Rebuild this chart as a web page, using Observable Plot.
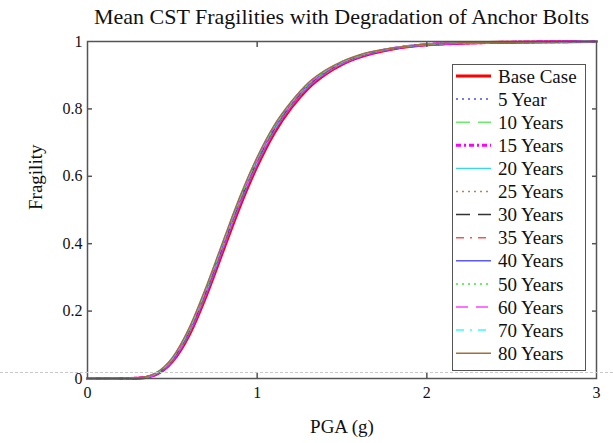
<!DOCTYPE html>
<html>
<head>
<meta charset="utf-8">
<script src="https://cdn.jsdelivr.net/npm/d3@7"></script>
<script src="https://cdn.jsdelivr.net/npm/@observablehq/plot@0.6"></script>
<style>
  html, body { margin: 0; padding: 0; background: #fff; }
  #fig { position: relative; width: 613px; height: 443px; font-family: "Liberation Serif", "Times New Roman", serif; }
  #title { height: 32px; line-height: 34px; font-size: 22px; text-align: center; padding-left: 70px; color: #111; white-space: nowrap; }
  #legend { position: absolute; left: 452px; top: 64px; width: 132px; height: 305px; border: 1.5px solid #555; background: #fff; }
  #artifact { position: absolute; left: 0; top: 372px; width: 613px; border-top: 1px dashed #c8c8c8; }
</style>
</head>
<body>
<div id="fig">
  <div id="title">Mean CST Fragilities with Degradation of Anchor Bolts</div>
  <div id="plot"></div>
  <div id="artifact"></div>
  <div id="legend"></div>
</div>
<script>
// PGA (g) sample points shared by all series
const pga = [0, 0.2, 0.3, 0.4, 0.5, 0.6, 0.7, 0.8, 0.9, 1.0, 1.1, 1.2, 1.3, 1.4, 1.5, 1.6, 1.8, 2.0, 2.2, 2.5, 3.0];

const seriesNames = ["Base Case", "5 Year", "10 Years", "15 Years", "20 Years", "25 Years", "30 Years", "35 Years", "40 Years", "50 Years", "60 Years", "70 Years", "80 Years"];

const baseCase = [0, 0, 0.001, 0.011, 0.050, 0.130, 0.246, 0.380, 0.513, 0.630, 0.728, 0.803, 0.861, 0.902, 0.932, 0.953, 0.978, 0.990, 0.995, 0.998, 1.0];
const year5    = [0, 0, 0.001, 0.012, 0.052, 0.134, 0.251, 0.386, 0.519, 0.635, 0.732, 0.806, 0.864, 0.904, 0.933, 0.954, 0.978, 0.990, 0.995, 0.998, 1.0];
const year10   = [0, 0, 0.001, 0.012, 0.053, 0.136, 0.254, 0.389, 0.522, 0.638, 0.735, 0.808, 0.866, 0.905, 0.934, 0.955, 0.979, 0.990, 0.995, 0.998, 1.0];
const year15   = [0, 0, 0.001, 0.012, 0.053, 0.137, 0.255, 0.390, 0.523, 0.639, 0.736, 0.809, 0.866, 0.906, 0.935, 0.955, 0.979, 0.991, 0.995, 0.998, 1.0];
const year20   = [0, 0, 0.001, 0.013, 0.055, 0.139, 0.258, 0.393, 0.526, 0.642, 0.738, 0.811, 0.868, 0.907, 0.936, 0.956, 0.979, 0.991, 0.995, 0.998, 1.0];
const year25   = [0, 0, 0.001, 0.013, 0.055, 0.140, 0.259, 0.394, 0.527, 0.643, 0.739, 0.812, 0.869, 0.908, 0.936, 0.956, 0.980, 0.991, 0.996, 0.998, 1.0];
const year30   = [0, 0, 0.001, 0.013, 0.056, 0.141, 0.261, 0.396, 0.529, 0.645, 0.741, 0.813, 0.870, 0.908, 0.937, 0.957, 0.980, 0.991, 0.996, 0.998, 1.0];
const year35   = [0, 0, 0.001, 0.014, 0.057, 0.143, 0.263, 0.398, 0.531, 0.647, 0.742, 0.814, 0.871, 0.909, 0.937, 0.957, 0.980, 0.991, 0.996, 0.998, 1.0];
const year40   = [0, 0, 0.001, 0.014, 0.058, 0.144, 0.265, 0.400, 0.533, 0.649, 0.744, 0.816, 0.872, 0.910, 0.938, 0.958, 0.980, 0.991, 0.996, 0.998, 1.0];
const year50   = [0, 0, 0.001, 0.014, 0.059, 0.146, 0.267, 0.402, 0.535, 0.651, 0.746, 0.817, 0.873, 0.911, 0.939, 0.958, 0.981, 0.991, 0.996, 0.998, 1.0];
const year60   = [0, 0, 0.002, 0.015, 0.060, 0.148, 0.269, 0.405, 0.538, 0.653, 0.748, 0.819, 0.875, 0.912, 0.940, 0.959, 0.981, 0.992, 0.996, 0.998, 1.0];
const year70   = [0, 0, 0.002, 0.015, 0.061, 0.149, 0.271, 0.407, 0.540, 0.655, 0.749, 0.820, 0.876, 0.913, 0.940, 0.959, 0.981, 0.992, 0.996, 0.998, 1.0];
const year80   = [0, 0, 0.002, 0.016, 0.062, 0.151, 0.273, 0.409, 0.542, 0.657, 0.751, 0.821, 0.877, 0.914, 0.941, 0.960, 0.981, 0.992, 0.996, 0.998, 1.0];

const seriesValues = [baseCase, year5, year10, year15, year20, year25, year30, year35, year40, year50, year60, year70, year80];

const xTicks = [0, 1, 2, 3];
const xTickLabels = ["0", "1", "2", "3"];
const yTicks = [0, 0.2, 0.4, 0.6, 0.8, 1];
const yTickLabels = ["0", "0.2", "0.4", "0.6", "0.8", "1"];

// line styles (presentation)
const styles = [
  {stroke: "#ff0000", width: 3,   dash: null},
  {stroke: "#4a4aff", width: 1.5, dash: "2,4"},
  {stroke: "#66ee66", width: 1.5, dash: "14,8"},
  {stroke: "#ff00ff", width: 3,   dash: "5,3,2,3"},
  {stroke: "#33dddd", width: 1.3, dash: null},
  {stroke: "#b08860", width: 1.5, dash: "2,4"},
  {stroke: "#333333", width: 1.5, dash: "14,8"},
  {stroke: "#ff5050", width: 1.5, dash: "8,6,2,6"},
  {stroke: "#5a5aff", width: 1.5, dash: null},
  {stroke: "#33ee33", width: 1.5, dash: "2,4"},
  {stroke: "#ff44ff", width: 1.5, dash: "12,8"},
  {stroke: "#33ffff", width: 1.5, dash: "8,6,2,6"},
  {stroke: "#a0703a", width: 1.5, dash: null}
];

const rows = [];
seriesNames.forEach((name, si) => {
  pga.forEach((x, i) => rows.push({series: name, si, pga: x, frag: seriesValues[si][i]}));
});

const lineMarks = seriesNames.map((name, si) =>
  Plot.line(rows.filter(d => d.si === si), {
    x: "pga", y: "frag", curve: "monotone-x",
    stroke: styles[si].stroke, strokeWidth: styles[si].width,
    strokeDasharray: styles[si].dash
  })
);

const axisColor = "#555";
const blank = () => "";
const chart = Plot.plot({
  width: 613,
  height: 411,
  marginLeft: 87,
  marginRight: 17,
  marginTop: 9,
  marginBottom: 65,
  style: {fontFamily: "Liberation Serif, Times New Roman, serif", fontSize: "16px", color: "#111", background: "#fff"},
  x: {domain: [0, 3], axis: null},
  y: {domain: [0, 1], axis: null},
  marks: [
    ...lineMarks,
    Plot.frame({stroke: axisColor, strokeWidth: 1.5}),
    Plot.axisX(xTicks, {anchor: "bottom", label: null, tickSize: 0, tickPadding: 8, fontSize: 16, tickFormat: d => xTickLabels[xTicks.indexOf(d)]}),
    Plot.axisX([1, 2], {anchor: "bottom", label: null, tickSize: -5, tickFormat: blank, stroke: axisColor, strokeWidth: 1.5}),
    Plot.axisX([1, 2], {anchor: "top", label: null, tickSize: -5, tickFormat: blank, stroke: axisColor, strokeWidth: 1.5}),
    Plot.axisY(yTicks, {anchor: "left", label: null, tickSize: 0, tickPadding: 5, fontSize: 16, tickFormat: d => yTickLabels[yTicks.indexOf(d)]}),
    Plot.axisY([0.2, 0.4, 0.6, 0.8], {anchor: "left", label: null, tickSize: -5, tickFormat: blank, stroke: axisColor, strokeWidth: 1.5}),
    Plot.axisY([0.2, 0.4, 0.6, 0.8], {anchor: "right", label: null, tickSize: -5, tickFormat: blank, stroke: axisColor, strokeWidth: 1.5}),
    Plot.text(["PGA (g)"], {frameAnchor: "bottom", dy: 54, fontSize: 19, fill: "#111"}),
    Plot.text(["Fragility"], {frameAnchor: "left", dx: -52, rotate: -90, fontSize: 19, fill: "#111"})
  ]
});
document.getElementById("plot").appendChild(chart);

// Legend (HTML overlay with small SVG samples)
const lg = d3.select("#legend").append("svg").attr("width", 132).attr("height", 305)
  .style("font-family", "Liberation Serif, Times New Roman, serif");
seriesNames.forEach((name, si) => {
  const y = 11 + si * 23.1;
  lg.append("line").attr("x1", 3).attr("x2", 38).attr("y1", y).attr("y2", y)
    .attr("stroke", styles[si].stroke).attr("stroke-width", styles[si].width)
    .attr("stroke-dasharray", styles[si].dash);
  lg.append("text").attr("x", 45).attr("y", y).attr("dy", "0.35em")
    .attr("font-size", 19).attr("fill", "#111").text(name);
});
</script>
</body>
</html>
